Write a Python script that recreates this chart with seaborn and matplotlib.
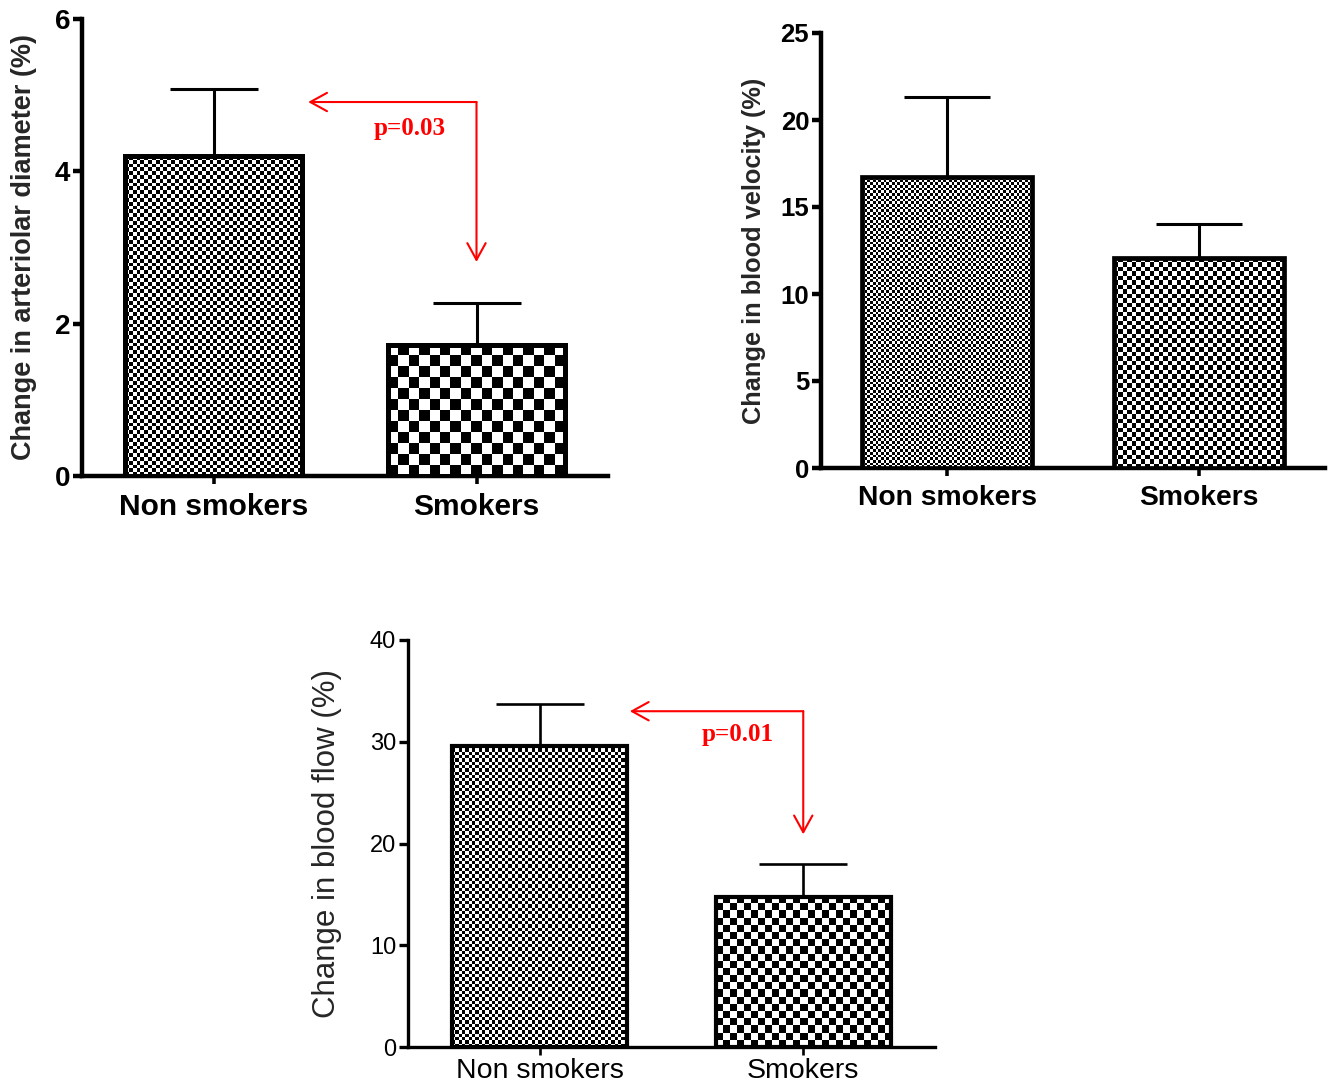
import numpy as np
import pandas as pd
import matplotlib
matplotlib.use("Agg")
import matplotlib.pyplot as plt
import seaborn as sns
from matplotlib.colors import ListedColormap

# ---------------- data ----------------
groups = ["Non smokers", "Smokers"]

diam_mean = [4.2, 1.72]
diam_err = [0.88, 0.55]

vel_mean = [16.7, 12.05]
vel_err = [4.6, 2.0]

flow_mean = [29.6, 14.75]
flow_err = [4.1, 3.25]

diam_ticks = [0, 2, 4, 6]
vel_ticks = [0, 5, 10, 15, 20, 25]
flow_ticks = [0, 10, 20, 30, 40]

p_diam = "p=0.03"
p_flow = "p=0.01"

# ---------------- style ----------------
sns.set_style("ticks")
plt.rcParams["font.family"] = ["Liberation Sans", "DejaVu Sans"]

DPI = 100
fig = plt.figure(figsize=(13.28, 10.89), dpi=DPI)


def add_checker(ax, patch, cell_px, zorder):
    x0, y0 = patch.get_x(), patch.get_y()
    x1, y1 = x0 + patch.get_width(), y0 + patch.get_height()
    (px0, py0), (px1, py1) = ax.transData.transform([(x0, y0), (x1, y1)])
    nx = max(1, int(round(abs(px1 - px0) / cell_px)))
    ny = max(1, int(round(abs(py1 - py0) / cell_px)))
    arr = np.add.outer(np.arange(ny), np.arange(nx)) % 2
    im = ax.imshow(arr, cmap=ListedColormap(["white", "black"]),
                   extent=(x0, x1, y0, y1), origin="upper",
                   interpolation="nearest", aspect="auto", zorder=zorder)
    im.set_clip_path(patch)


def draw_panel(rect, means, errs, ymax, yticks, ylabel, cells,
               bold, spine_lw, edge_lw, xfs, yfs, lfs, label_x, bw, err_lw,
               xpad):
    ax = fig.add_axes(rect)
    df = pd.DataFrame({"group": groups, "value": means})
    sns.barplot(data=df, x="group", y="value", order=groups, ax=ax,
                errorbar=None, width=bw, linewidth=edge_lw,
                edgecolor="black", color="white")
    ax.set_xlim(-0.5, 1.5)
    ax.set_ylim(0, ymax)
    bars = list(ax.patches)
    for p in bars:
        p.set_facecolor("none")
        p.set_zorder(4)
    for p, c in zip(bars, cells):
        add_checker(ax, p, c, zorder=3)
    ax.set_xlim(-0.5, 1.5)
    ax.set_ylim(0, ymax)

    # upper error bars only
    xs = [p.get_x() + p.get_width() / 2 for p in bars]
    bw_px = (ax.transData.transform((bars[0].get_width(), 0))[0]
             - ax.transData.transform((0, 0))[0])
    cap_pt = 0.25 * bw_px * 72 / DPI
    ax.errorbar(xs, means, yerr=[np.zeros(len(means)), errs], fmt="none",
                ecolor="black", elinewidth=err_lw, capsize=cap_pt,
                capthick=err_lw, zorder=2)

    sns.despine(ax=ax)
    for s in ("left", "bottom"):
        ax.spines[s].set_linewidth(spine_lw)
        ax.spines[s].set_color("black")
    weight = "bold" if bold else "normal"
    ax.set_yticks(yticks)
    ax.set_yticklabels([str(t) for t in yticks], fontsize=yfs,
                       fontweight=weight)
    ax.set_xticks(xs)
    ax.set_xticklabels(groups, fontsize=xfs, fontweight=weight)
    ax.tick_params(axis="y", direction="out", length=6.5, width=spine_lw,
                   pad=2, colors="black")
    ax.tick_params(axis="x", direction="out", length=6, width=spine_lw * 0.8,
                   pad=xpad, colors="black")
    ax.set_xlabel("")
    ax.set_ylabel(ylabel, fontsize=lfs, fontweight=weight)
    ax.yaxis.set_label_coords(label_x, 0.5)
    ax.set_facecolor("white")
    ax.grid(False)
    return ax


W, H = 1328, 1089


def rect_px(l, r, b, t):
    return [l / W, 1 - b / H, (r - l) / W, (b - t) / H]


# Panel 1: arteriolar diameter
ax1 = draw_panel(rect_px(82, 608, 476, 19), diam_mean, diam_err, 6,
                 diam_ticks, "Change in arteriolar diameter (%)",
                 [3.8, 10.5], True, 3.2, 3.6, 21.5, 20, 19.5, -0.085, 0.67,
                 2.2, 6)

# Panel 2: blood velocity
ax2 = draw_panel(rect_px(821, 1325, 468, 33), vel_mean, vel_err, 25,
                 vel_ticks, "Change in blood velocity (%)",
                 [2.7, 4.5], True, 3.2, 3.4, 20.3, 18.5, 18.3, -0.11, 0.676,
                 2.2, 6)

# Panel 3: blood flow
ax3 = draw_panel(rect_px(408, 935, 1047, 640), flow_mean, flow_err, 40,
                 flow_ticks, "Change in blood flow (%)",
                 [3.3, 7.0], False, 2.4, 3.0, 20.5, 17, 22.5, -0.125, 0.665,
                 1.9, 2)


def significance(ax, x_from, x_to, y_h, y_down, text, tx, ty):
    style = "->,head_length=0.6,head_width=0.33"
    props = dict(arrowstyle=style, color="red", lw=1.5, mutation_scale=20,
                 shrinkA=0, shrinkB=0)
    ax.annotate("", xy=(x_to, y_h), xytext=(x_from, y_h), arrowprops=props,
                annotation_clip=False, zorder=6)
    ax.annotate("", xy=(x_from, y_down), xytext=(x_from, y_h),
                arrowprops=props, annotation_clip=False, zorder=6)
    ax.text(tx, ty, text, color="red", fontsize=18, fontweight="bold",
            family=["Liberation Serif", "DejaVu Serif"], ha="center",
            va="center", zorder=6)


significance(ax1, 1.0, 0.36, 4.91, 2.81, p_diam, 0.745, 4.56)
significance(ax3, 1.0, 0.342, 33.0, 20.9, p_flow, 0.75, 30.7)

fig.savefig("out.png", dpi=DPI, facecolor="white")
